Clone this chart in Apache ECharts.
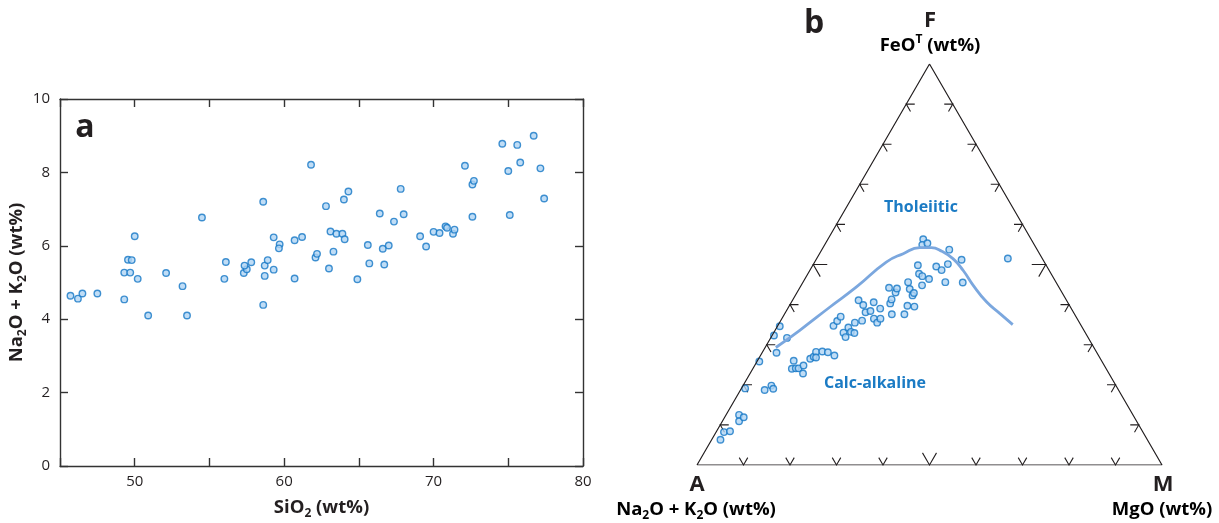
<!DOCTYPE html>
<html><head><meta charset="utf-8">
<script src="https://cdn.jsdelivr.net/npm/echarts@6/dist/echarts.min.js"></script>
<style>html,body{margin:0;padding:0;background:#fff}#c{width:1219px;height:523px}</style>
</head><body><div id="c"></div>
<script>
// ---------- Panel a: SiO2 vs Na2O+K2O ----------
const sio2 = [45.7,46.2,46.5,47.5,49.3,49.3,49.7,49.55,49.8,50.0,50.2,50.9,52.1,53.2,53.5,54.5,56.0,56.1,57.3,57.5,57.35,57.8,58.6,58.6,58.7,58.7,58.9,59.3,59.3,59.7,59.65,60.7,60.7,61.2,61.8,62.1,62.2,62.8,63.0,63.1,63.3,63.5,63.9,64.0,64.05,64.3,64.9,65.6,65.7,66.4,66.6,66.7,67.0,67.35,67.8,68.0,69.1,69.5,70.0,70.4,70.8,70.9,71.3,71.4,72.1,72.6,72.7,72.6,74.6,75.0,75.1,75.6,75.8,76.7,77.15,77.4];
const alkali = [4.64,4.56,4.70,4.70,4.54,5.27,5.27,5.62,5.61,6.26,5.10,4.10,5.26,4.90,4.10,6.77,5.10,5.56,5.26,5.36,5.46,5.55,4.39,7.20,5.46,5.18,5.61,5.35,6.23,6.04,5.93,5.11,6.15,6.24,8.21,5.68,5.78,7.08,5.38,6.39,5.84,6.33,6.33,7.26,6.18,7.48,5.09,6.02,5.52,6.88,5.92,5.49,6.01,6.66,7.55,6.86,6.26,5.98,6.38,6.35,6.53,6.49,6.33,6.44,8.18,7.67,7.77,6.79,8.78,8.04,6.84,8.75,8.27,9.00,8.11,7.29];
const xTicks = [45, 80, 5];   // min, max, step
const yTicks = [0, 10, 2];

// ---------- Panel b: AFM ternary (wt%) ----------
const tA = [91.8,90.1,88.7,84.7,85.5,84.0,80.1,73.7,76.1,74.1,74.1,67.3,68.9,64.9,64.8,67.6,66.2,66.7,66.1,64.7,65.8,62.4,61.4,60.3,61.0,58.9,57.8,56.8,53.3,51.9,50.6,52.0,52.1,50.3,50.3,49.7,48.3,44.7,46.5,44.3,44.7,43.5,41.7,43.7,43.5,41.1,42.3,36.6,38.3,37.5,39.3,35.8,35.0,36.6,34.9,31.8,32.3,32.5,31.9,33.5,27.6,28.4,28.0,29.2,23.2,24.1,22.8,26.9,23.8,23.1,23.8,21.0,18.9,17.5,20.1,7.4];
const tF = [6.3,8.2,8.4,12.5,10.9,11.9,19.1,25.8,18.7,19.8,19.0,32.3,28.0,34.6,31.7,24.0,26.0,24.1,24.1,24.8,22.8,26.5,27.0,28.2,26.8,28.3,28.1,27.3,34.7,35.9,37.0,33.0,31.9,34.3,33.2,32.9,35.5,41.1,36.0,39.9,38.1,38.4,40.6,36.5,35.5,39.0,36.5,44.2,40.3,41.3,37.6,43.0,44.0,37.6,39.7,45.6,43.9,42.3,42.9,39.5,49.8,47.7,47.1,44.8,56.3,54.9,55.3,46.4,49.5,48.6,45.6,50.1,53.7,51.2,45.5,51.5];
const tM = [1.9,1.7,2.9,2.8,3.6,4.1,0.8,0.5,5.2,6.1,6.9,0.4,3.1,0.5,3.5,8.4,7.8,9.2,9.8,10.5,11.4,11.1,11.6,11.5,12.2,12.8,14.1,15.9,12.0,12.2,12.4,15.0,16.0,15.4,16.5,17.4,16.2,14.2,17.5,15.8,17.2,18.1,17.7,19.8,21.0,19.9,21.2,19.2,21.4,21.2,23.1,21.2,21.0,25.8,25.4,22.6,23.8,25.2,25.2,27.0,22.6,23.9,24.9,26.0,20.5,21.0,21.9,26.7,26.7,28.3,30.6,28.9,27.4,31.3,34.4,41.1];
// Tholeiitic / calc-alkaline boundary (A, F, M)
const divA = [68.4,61.1,51.7,43.5,34.0,29.3,25.0,22.5,20.7,19.2,18.5,18.2,17.4,16.0,14.6];
const divF = [29.3,33.6,39.4,44.4,50.6,52.7,54.2,54.2,53.3,51.4,48.5,44.8,40.7,37.8,35.0];
const divM = [2.3,5.3,8.9,12.1,15.4,18.0,20.8,23.3,26.0,29.4,33.0,37.0,41.9,46.2,50.4];
// triangle vertices A, M, F, A
const vertA = [100, 0, 0, 100];
const vertF = [0, 0, 100, 0];
const vertM = [0, 100, 0, 0];
const ternTicks = [10,20,30,40,50,60,70,80,90];

const H = Math.sqrt(3) / 2;
function tern(a, f, m) { const s = a + f + m; return [(m + f / 2) / s, (f / s) * H]; }

const FONT = '"Open Sans", "Noto Sans", sans-serif';
const INK = '#231f20';
const BLUE = '#1b7bc4';

const scatterA = sio2.map((x, i) => [x, alkali[i]]);
const scatterB = tA.map((a, i) => tern(a, tF[i], tM[i]));
const divLine = divA.map((a, i) => tern(a, divF[i], divM[i]));
const triangle = vertA.map((a, i) => tern(a, vertF[i], vertM[i]));

function richSet(size) {
  const sub = Math.round(size * 0.66);
  return {
    b: { fontSize: size, fontWeight: 'bold', fontFamily: FONT, color: INK, lineHeight: 24 },
    s: { fontSize: sub, fontWeight: 'bold', fontFamily: FONT, color: INK, lineHeight: 11, verticalAlign: 'bottom' },
    p: { fontSize: sub, fontWeight: 'bold', fontFamily: FONT, color: INK, lineHeight: 11, verticalAlign: 'top' }
  };
}

const axisLineStyle = { color: '#333', width: 1.4 };
const pointStyle = { color: '#b0d5f4', borderColor: '#1477c6', borderWidth: 1.4 };
const tickIn = { show: true, inside: true, length: 8, lineStyle: axisLineStyle };

const chart = echarts.init(document.getElementById('c'), null, { renderer: 'canvas' });
chart.setOption({
  animation: false,
  grid: [
    { left: 60, top: 99, width: 523, height: 367, outerBoundsMode: 'none', containLabel: false },
    { left: 697, top: 64, width: 465, height: 401, outerBoundsMode: 'none', containLabel: false }
  ],
  xAxis: [
    { gridIndex: 0, type: 'value', position: 'bottom', min: xTicks[0], max: xTicks[1], interval: xTicks[2],
      axisLine: { onZero: false, lineStyle: axisLineStyle }, axisTick: tickIn,
      splitLine: { show: false },
      axisLabel: { margin: 8, color: INK, fontSize: 15, fontFamily: FONT, formatter: v => (v % 10 === 0 ? v : '') },
      name: '{b|SiO}{s|2}{b| (wt%)}', nameLocation: 'middle', nameGap: 30,
      nameTextStyle: { rich: richSet(18.5) } },
    { gridIndex: 0, type: 'value', position: 'top', min: xTicks[0], max: xTicks[1], interval: xTicks[2],
      axisLine: { onZero: false, lineStyle: axisLineStyle }, axisTick: tickIn,
      splitLine: { show: false }, axisLabel: { show: false } },
    { gridIndex: 1, type: 'value', min: 0, max: 1, show: false, splitLine: { show: false } }
  ],
  yAxis: [
    { gridIndex: 0, type: 'value', position: 'left', min: yTicks[0], max: yTicks[1], interval: yTicks[2],
      axisLine: { show: true, onZero: false, lineStyle: axisLineStyle }, axisTick: tickIn,
      splitLine: { show: false },
      axisLabel: { margin: 10, color: INK, fontSize: 15, fontFamily: FONT },
      name: '{b|Na}{s|2}{b|O + K}{s|2}{b|O (wt%)}', nameLocation: 'middle', nameGap: 28, nameRotate: 90,
      nameTextStyle: { rich: richSet(18.5) } },
    { gridIndex: 0, type: 'value', position: 'right', min: yTicks[0], max: yTicks[1], interval: yTicks[2],
      axisLine: { show: true, onZero: false, lineStyle: axisLineStyle }, axisTick: tickIn,
      splitLine: { show: false }, axisLabel: { show: false } },
    { gridIndex: 1, type: 'value', min: 0, max: H, show: false, splitLine: { show: false } }
  ],
  series: [
    { type: 'scatter', xAxisIndex: 0, yAxisIndex: 0, data: scatterA, symbolSize: 6.5, itemStyle: pointStyle },
    { type: 'line', xAxisIndex: 2, yAxisIndex: 2, data: triangle, symbol: 'none', silent: true,
      lineStyle: { color: INK, width: 1.2 } },
    { type: 'custom', xAxisIndex: 2, yAxisIndex: 2, data: ternTicks.map(t => [t, 0]), silent: true, clip: false,
      renderItem: function (params, api) {
        const v = api.value(0);
        const L = v === 50 ? 14 : 8.5;
        const c = 0.5 * L, s = 0.866 * L;
        const f = v / 100;
        const pb = api.coord([f, 0]);
        const pl = api.coord([f / 2, f * H]);
        const pr = api.coord([1 - f / 2, f * H]);
        const st = { stroke: INK, fill: null, lineWidth: 1.1 };
        return { type: 'group', children: [
          { type: 'polyline', shape: { points: [[pb[0] - c, pb[1] - s], [pb[0], pb[1]], [pb[0] + c, pb[1] - s]] }, style: st },
          { type: 'polyline', shape: { points: [[pl[0] + L, pl[1]], [pl[0], pl[1]], [pl[0] + c, pl[1] + s]] }, style: st },
          { type: 'polyline', shape: { points: [[pr[0] - L, pr[1]], [pr[0], pr[1]], [pr[0] - c, pr[1] + s]] }, style: st }
        ] };
      } },
    { type: 'line', xAxisIndex: 2, yAxisIndex: 2, data: divLine, symbol: 'none', smooth: true, silent: true,
      lineStyle: { color: '#7ba7de', width: 2.8 } },
    { type: 'scatter', xAxisIndex: 2, yAxisIndex: 2, data: scatterB, symbolSize: 6.5, itemStyle: pointStyle }
  ],
  graphic: [
    { type: 'text', x: 85, y: 128, style: { text: 'a', font: 'bold 32px ' + FONT, fill: INK, align: 'center', verticalAlign: 'middle' } },
    { type: 'text', x: 814, y: 24, style: { text: 'b', font: 'bold 32px ' + FONT, fill: INK, align: 'center', verticalAlign: 'middle' } },
    { type: 'text', x: 930, y: 21, style: { text: 'F', font: 'bold 22px ' + FONT, fill: INK, align: 'center', verticalAlign: 'middle' } },
    { type: 'text', x: 930, y: 46, style: { text: '{b|FeO}{p|T}{b| (wt%)}', rich: richSet(18.5), align: 'center', verticalAlign: 'middle' } },
    { type: 'text', x: 697, y: 485, style: { text: 'A', font: 'bold 22px ' + FONT, fill: INK, align: 'center', verticalAlign: 'middle' } },
    { type: 'text', x: 696, y: 510, style: { text: '{b|Na}{s|2}{b|O + K}{s|2}{b|O (wt%)}', rich: richSet(18.5), align: 'center', verticalAlign: 'middle' } },
    { type: 'text', x: 1163, y: 485, style: { text: 'M', font: 'bold 22px ' + FONT, fill: INK, align: 'center', verticalAlign: 'middle' } },
    { type: 'text', x: 1162, y: 510, style: { text: '{b|MgO (wt%)}', rich: richSet(18.5), align: 'center', verticalAlign: 'middle' } },
    { type: 'text', x: 921, y: 207, style: { text: 'Tholeiitic', font: 'bold 16px ' + FONT, fill: BLUE, align: 'center', verticalAlign: 'middle' } },
    { type: 'text', x: 875, y: 383, style: { text: 'Calc-alkaline', font: 'bold 16px ' + FONT, fill: BLUE, align: 'center', verticalAlign: 'middle' } }
  ]
});
</script>
</body></html>
